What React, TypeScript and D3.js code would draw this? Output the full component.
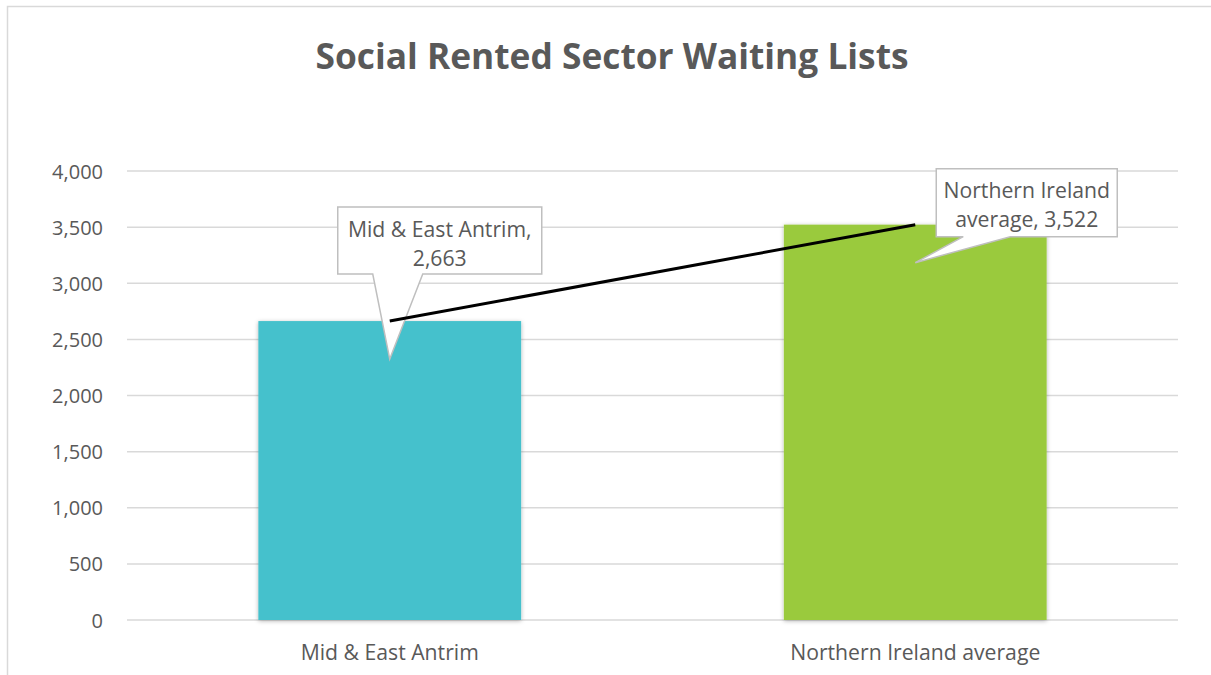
import React from "react";
import * as d3 from "d3";

const categories = ["Mid & East Antrim", "Northern Ireland average"];
const values = [2663, 3522];
const barColors = ["#44C1CC", "#9ACA3C"];
const yTicks = [0, 500, 1000, 1500, 2000, 2500, 3000, 3500, 4000];
const calloutLines = [
  ["Mid & East Antrim,", "2,663"],
  ["Northern Ireland", "average, 3,522"],
];

const W = 1211;
const H = 675;
const margin = { left: 127, right: 33, top: 171, bottom: 55 };
const font = "'Open Sans', sans-serif";
const textColor = "#595959";

const App = () => {
  const x = d3
    .scaleBand()
    .domain(categories)
    .range([margin.left, W - margin.right])
    .paddingInner(0.5)
    .paddingOuter(0.25);

  const y = d3
    .scaleLinear()
    .domain([0, 4000])
    .range([H - margin.bottom, margin.top]);

  const fmt = d3.format(",");

  const line = d3
    .line<number>()
    .x((d, i) => x(categories[i])! + x.bandwidth() / 2)
    .y((d) => y(d));

  // callout boxes: offsets relative to the data point (box x/y/w/h, pointer base, tip)
  const callouts = [
    { bx: -52, by: -114, bw: 204, bh: 67, p0: -17, p1: 33, tipDy: 38 },
    { bx: 21, by: -56, bw: 181, bh: 68, p0: 48, p1: 95, tipDy: 38 },
  ];

  return (
    <svg width={W} height={H} style={{ display: "block", position: "absolute", left: 0, top: 0 }}>
      <defs>
        <filter id="shadow" x="-5%" y="-5%" width="110%" height="110%">
          <feDropShadow dx="0" dy="1" stdDeviation="2" floodColor="#000" floodOpacity="0.3" />
        </filter>
      </defs>
      <rect x={0} y={0} width={W} height={H} fill="#fff" />
      <rect x={7.5} y={6.5} width={W + 10} height={H + 10} fill="#fff" stroke="#d9d9d9" strokeWidth={1.5} />

      <text
        x={612}
        y={55}
        textAnchor="middle"
        dominantBaseline="central"
        fontFamily={font}
        fontWeight="bold"
        fontSize={35.3}
        fill={textColor}
      >
        Social Rented Sector Waiting Lists
      </text>

      {/* gridlines and y labels */}
      {yTicks.map((t) => (
        <g key={t}>
          <line
            x1={margin.left}
            x2={W - margin.right}
            y1={y(t)}
            y2={y(t)}
            stroke="#d9d9d9"
            strokeWidth={1.5}
          />
          <text
            x={103}
            y={y(t)}
            textAnchor="end"
            dominantBaseline="central"
            fontFamily={font}
            fontSize={20}
            fill={textColor}
          >
            {fmt(t)}
          </text>
        </g>
      ))}

      {/* bars */}
      {categories.map((c, i) => (
        <rect
          key={c}
          x={x(c)}
          y={y(values[i])}
          width={x.bandwidth()}
          height={y(0) - y(values[i])}
          fill={barColors[i]}
          filter="url(#shadow)"
        />
      ))}

      {/* category labels */}
      {categories.map((c) => (
        <text
          key={c}
          x={x(c)! + x.bandwidth() / 2}
          y={651}
          textAnchor="middle"
          dominantBaseline="central"
          fontFamily={font}
          fontSize={21.2}
          fill={textColor}
        >
          {c}
        </text>
      ))}

      {/* callouts */}
      {categories.map((c, i) => {
        const px = x(c)! + x.bandwidth() / 2;
        const py = y(values[i]);
        const o = callouts[i];
        const bx = px + o.bx;
        const by = py + o.by;
        const bottom = by + o.bh;
        const tipX = px;
        const tipY = py + o.tipDy;
        const d = `M${bx},${by} H${bx + o.bw} V${bottom} H${px + o.p1} L${tipX},${tipY} L${px + o.p0},${bottom} H${bx} Z`;
        return (
          <g key={c}>
            <path d={d} fill="#fff" stroke="#bfbfbf" strokeWidth={1.5} />
            {calloutLines[i].map((l, j) => (
              <text
                key={j}
                x={bx + o.bw / 2}
                y={by + 21 + j * 29}
                textAnchor="middle"
                dominantBaseline="central"
                fontFamily={font}
                fontSize={21.2}
                fill={textColor}
              >
                {l}
              </text>
            ))}
          </g>
        );
      })}

      {/* line connecting the values */}
      <path d={line(values) || ""} fill="none" stroke="#000" strokeWidth={3} />
    </svg>
  );
};

export default App;
